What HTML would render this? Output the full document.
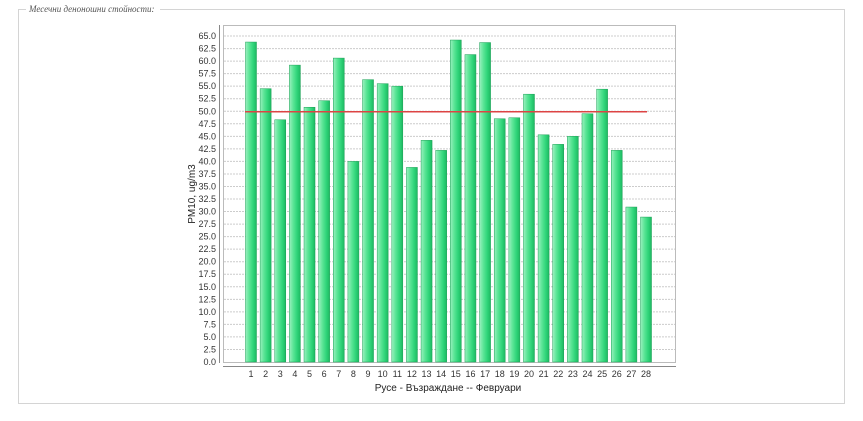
<!DOCTYPE html>
<html><head><meta charset="utf-8"><style>
html,body{margin:0;padding:0;background:#fff;width:863px;height:421px;overflow:hidden}
</style></head><body>
<svg width="863" height="421" xmlns="http://www.w3.org/2000/svg" font-family="Liberation Sans, DejaVu Sans, sans-serif">
<defs>
<linearGradient id="g" x1="0" x2="1" y1="0" y2="0">
<stop offset="0" stop-color="#9af0bf"/>
<stop offset="0.35" stop-color="#5be596"/>
<stop offset="0.7" stop-color="#2fd479"/>
<stop offset="1" stop-color="#1eb861"/>
</linearGradient>
</defs>
<rect x="18.5" y="9.5" width="826" height="394" fill="none" stroke="#d4d4d4"/>
<rect x="26" y="3" width="134" height="12" fill="#fff"/>
<text x="29" y="12" font-size="9" font-style="italic" fill="#555" font-family="Liberation Serif, serif">Месечни деноношни стойности:</text>
<rect x="223.5" y="25.5" width="452" height="337" fill="#fff" stroke="#bbb"/>
<g id="grid" stroke="#ccc" stroke-dasharray="2,1"></g>
<g id="bars"></g>
<line x1="245" y1="111.8" x2="647" y2="111.8" stroke="#d44" stroke-width="1.5"/>
<line x1="219.5" y1="25" x2="219.5" y2="363" stroke="#888"/>
<line x1="223" y1="366.5" x2="676" y2="366.5" stroke="#888"/>
<g id="ylab" font-size="9" fill="#333" text-anchor="end"></g>
<g id="xlab" font-size="9" fill="#333" text-anchor="middle"></g>
<text x="195" y="194" font-size="10" fill="#222" text-anchor="middle" transform="rotate(-90 195 194)">PM10, ug/m3</text>
<text x="448" y="391" font-size="10" fill="#222" text-anchor="middle">Русе - Възраждане -- Февруари</text>
</svg>
<script>
const ns="http://www.w3.org/2000/svg";
const Y=v=>362-v*5.015;
const grid=document.getElementById('grid'),yl=document.getElementById('ylab');
for(let i=0;i<=26;i++){const v=i*2.5,y=Y(v);
 if(i>0){const l=document.createElementNS(ns,'line');l.setAttribute('x1',224);l.setAttribute('x2',675);l.setAttribute('y1',y);l.setAttribute('y2',y);grid.appendChild(l);}
 const t=document.createElementNS(ns,'text');t.setAttribute('x',216);t.setAttribute('y',y+3);t.textContent=v.toFixed(1);yl.appendChild(t);}
const vals=[63.8,54.5,48.3,59.2,50.8,52.1,60.6,40,56.3,55.5,55,38.8,44.2,42.2,64.2,61.3,63.7,48.5,48.7,53.4,45.3,43.4,45,49.5,54.4,42.2,30.9,28.9];
const bars=document.getElementById('bars'),xl=document.getElementById('xlab');
vals.forEach((v,i)=>{const cx=251+i*14.63,y=Y(v);
 const r=document.createElementNS(ns,'rect');r.setAttribute('x',cx-5.5);r.setAttribute('width',11);r.setAttribute('y',y);r.setAttribute('height',362-y);r.setAttribute('fill','url(#g)');r.setAttribute('stroke','#1a9f55');r.setAttribute('stroke-width','0.5');bars.appendChild(r);
 const t=document.createElementNS(ns,'text');t.setAttribute('x',cx);t.setAttribute('y',377);t.textContent=i+1;xl.appendChild(t);});
</script>
</body></html>
